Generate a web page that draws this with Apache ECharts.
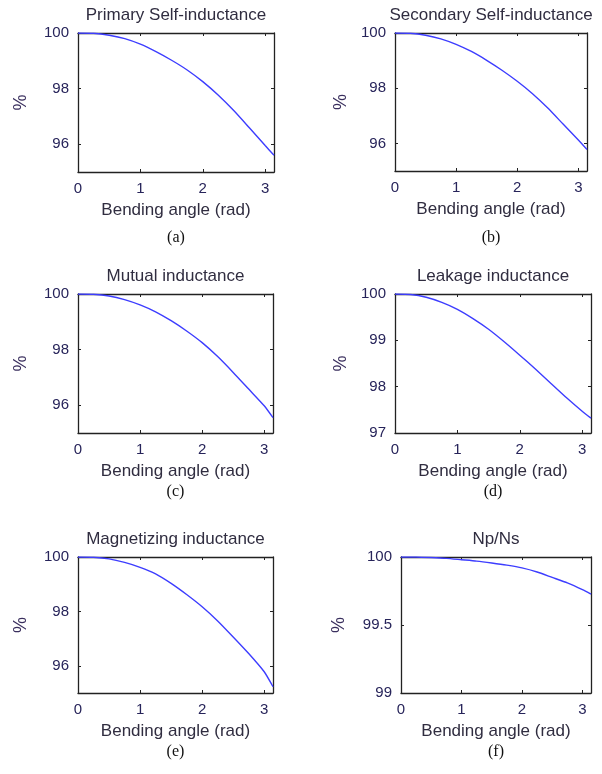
<!DOCTYPE html>
<html>
<head>
<meta charset="utf-8">
<script src="https://cdn.jsdelivr.net/npm/echarts@6/dist/echarts.min.js"></script>
<style>
  html, body { margin: 0; padding: 0; background: #fff; }
  #chart { width: 602px; height: 774px; }
</style>
</head>
<body>
<div id="chart"></div>
<script>
// bending angle samples (rad)
const angles = [0, 0.25, 0.5, 0.75, 1, 1.25, 1.5, 1.75, 2, 2.25, 2.5, 2.75, 3, Math.PI];

// values (%)
const primarySelf   = [100, 99.99, 99.92, 99.8, 99.6, 99.33, 99.02, 98.67, 98.25, 97.76, 97.2, 96.58, 95.95, 95.6];
const secondarySelf = [100, 99.99, 99.92, 99.79, 99.59, 99.33, 99.01, 98.65, 98.25, 97.8, 97.28, 96.7, 96.12, 95.78];
const mutual        = [100, 99.99, 99.93, 99.8, 99.61, 99.36, 99.04, 98.67, 98.25, 97.75, 97.18, 96.58, 95.98, 95.55];
const leakage       = [100, 99.99, 99.93, 99.82, 99.67, 99.47, 99.24, 98.97, 98.68, 98.38, 98.07, 97.76, 97.47, 97.32];
const magnetizing   = [100, 99.99, 99.93, 99.8, 99.62, 99.38, 99.03, 98.62, 98.17, 97.65, 97.06, 96.45, 95.78, 95.23];
const turnsRatio    = [100, 100, 99.996, 99.99, 99.98, 99.97, 99.956, 99.94, 99.92, 99.89, 99.85, 99.81, 99.76, 99.727];

const titles = ['Primary Self-inductance', 'Secondary Self-inductance', 'Mutual inductance',
                'Leakage inductance', 'Magnetizing inductance', 'Np/Ns'];
const subLabels = ['(a)', '(b)', '(c)', '(d)', '(e)', '(f)'];
const seriesValues = [primarySelf, secondarySelf, mutual, leakage, magnetizing, turnsRatio];
const xTicks = [0, 1, 2, 3];
const yTicks = [[96, 98, 100], [96, 98, 100], [96, 98, 100], [97, 98, 99, 100], [96, 98, 100], [99, 99.5, 100]];
const yRanges = [[95, 100], [95, 100], [95, 100], [97, 100], [95, 100], [99, 100]];

// plot boxes: left, top, width, height
const boxes = [
  [78, 33, 196, 139],
  [395, 33, 192, 138],
  [78, 294, 195, 139],
  [395, 294, 196, 139],
  [78, 557, 195, 136],
  [401, 557, 190, 136]
];
const subLabelY = [238, 238, 492, 492, 752, 752];
const yNameGap = [48, 45, 48, 45, 48, 53];

const chart = echarts.init(document.getElementById('chart'));

const grid = [], xAxis = [], yAxis = [], series = [], graphic = [];
const lineCol = '#222';
const labelCol = '#27245a';
const font = 'Liberation Sans';

boxes.forEach((b, i) => {
  const [left, top, width, height] = b;
  grid.push({ left, top, width, height, containLabel: false });

  const baseX = {
    type: 'value', gridIndex: i, min: 0, max: Math.PI,
    axisLine: { show: true, onZero: false, lineStyle: { color: lineCol, width: 1.3 } },
    axisTick: { inside: true, length: 3, customValues: xTicks, lineStyle: { color: lineCol } },
    splitLine: { show: false }
  };
  xAxis.push(Object.assign({}, baseX, {
    position: 'bottom',
    axisLabel: { customValues: xTicks, color: labelCol, fontSize: 15, fontFamily: font, margin: 9 },
    name: 'Bending angle (rad)', nameLocation: 'middle', nameGap: 30,
    nameTextStyle: { color: '#302d40', fontSize: 17, fontFamily: font }
  }));
  xAxis.push(Object.assign({}, baseX, { position: 'top', axisLabel: { show: false } }));

  const baseY = {
    type: 'value', gridIndex: i, min: yRanges[i][0], max: yRanges[i][1],
    axisLine: { show: true, onZero: false, lineStyle: { color: lineCol, width: 1.3 } },
    axisTick: { inside: true, length: 3, customValues: yTicks[i], lineStyle: { color: lineCol } },
    splitLine: { show: false }
  };
  yAxis.push(Object.assign({}, baseY, {
    position: 'left',
    axisLabel: { customValues: yTicks[i], color: labelCol, fontSize: 15, fontFamily: font, margin: 9 },
    name: '%', nameLocation: 'middle', nameRotate: 90, nameGap: yNameGap[i],
    nameTextStyle: { color: '#3a2f5e', fontSize: 18, fontFamily: font }
  }));
  yAxis.push(Object.assign({}, baseY, { position: 'right', axisLabel: { show: false } }));

  series.push({
    type: 'line', xAxisIndex: i * 2, yAxisIndex: i * 2,
    data: angles.map((a, k) => [a, seriesValues[i][k]]),
    showSymbol: false, smooth: 0.2,
    lineStyle: { color: '#3d3dff', width: 1.4 }
  });

  graphic.push({
    type: 'text', x: left + width / 2, y: top - 18,
    style: { text: titles[i], fill: '#302d40', font: '17px "Liberation Sans"', textAlign: 'center', textVerticalAlign: 'middle' }
  });
  graphic.push({
    type: 'text', x: left + width / 2, y: subLabelY[i],
    style: { text: subLabels[i], fill: '#111', font: '16px "Liberation Serif"', textAlign: 'center', textVerticalAlign: 'middle' }
  });
});

chart.setOption({
  animation: false,
  backgroundColor: '#fff',
  grid, xAxis, yAxis, series, graphic
});
</script>
</body>
</html>
